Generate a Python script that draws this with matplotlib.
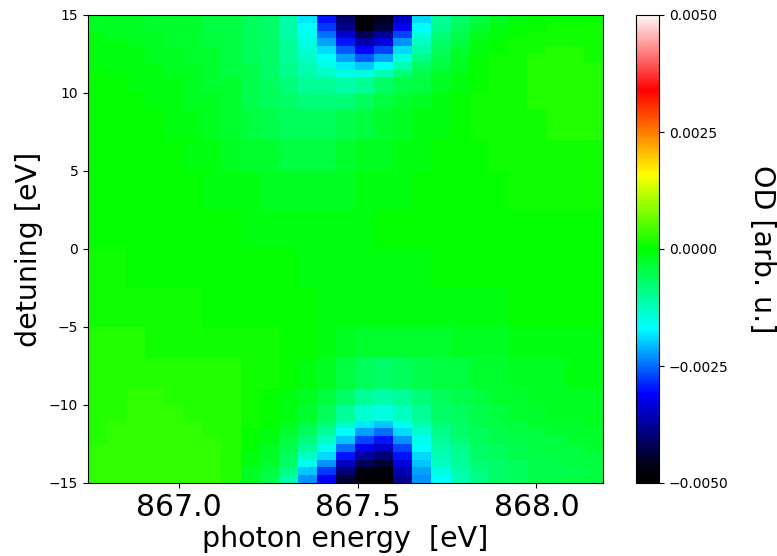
import numpy as np
import matplotlib
matplotlib.use("Agg")
import matplotlib.pyplot as plt
from matplotlib.colors import LinearSegmentedColormap
from matplotlib.ticker import FuncFormatter

# ---- data -------------------------------------------------------------
energy_edges = [866.746, 866.799, 866.853, 866.906, 866.959, 867.013, 867.066,
                867.119, 867.173, 867.226, 867.280, 867.333, 867.386, 867.440,
                867.493, 867.546, 867.600, 867.653, 867.706, 867.760, 867.813,
                867.866, 867.920, 867.973, 868.026, 868.080, 868.133, 868.186]

detuning_edges = [15, 14.5, 14, 13.5, 13, 12.5, 12, 11.5, 11, 10, 9, 7, 5, 2.5, 0,
                  -2.5, -5, -7, -9, -10, -11, -11.5, -12, -12.5, -13, -13.5, -14,
                  -14.5, -15]

# OD values in units of 1e-4, rows from top (detuning +15) to bottom (-15)
od_1e4 = [
    [-2,-2,-2,-3,-3,-3,-4,-4,-6,-7,-11,-18,-30,-41,-50,-46,-34,-19,-10,-7,-4,-2,-1,0,0,0,0],
    [-2,-2,-2,-3,-3,-3,-4,-4,-6,-7,-11,-17,-28,-38,-47,-43,-31,-17,-9,-6,-3,-1,0,0,1,1,1],
    [-1,-2,-2,-2,-3,-3,-4,-4,-6,-7,-11,-16,-25,-34,-42,-38,-27,-15,-8,-5,-2,-1,0,1,1,1,1],
    [-1,-1,-2,-2,-3,-3,-4,-4,-6,-7,-10,-15,-22,-30,-37,-33,-23,-13,-7,-4,-1,0,1,1,1,1,1],
    [-1,-1,-1,-2,-2,-3,-3,-4,-6,-7,-10,-14,-19,-26,-31,-27,-19,-11,-6,-3,-1,0,1,1,2,2,1],
    [-1,-1,-1,-2,-2,-3,-3,-4,-6,-7,-10,-13,-17,-22,-26,-22,-15,-9,-5,-2,0,1,1,2,2,2,1],
    [-1,-1,-1,-1,-2,-2,-3,-4,-5,-7,-9,-12,-15,-18,-20,-17,-12,-7,-4,-2,0,1,1,2,2,2,2],
    [0,-1,-1,-1,-2,-2,-3,-4,-5,-7,-9,-11,-13,-15,-15,-12,-8,-5,-3,-1,0,1,1,2,2,2,2],
    [0,0,-1,-1,-1,-2,-3,-3,-5,-6,-8,-10,-10,-11,-10,-7,-5,-4,-2,-1,0,1,1,2,2,2,2],
    [0,0,0,-1,-1,-2,-2,-3,-5,-6,-7,-8,-8,-8,-6,-4,-3,-2,-1,0,1,1,1,2,2,2,2],
    [0,0,0,0,-1,-1,-2,-3,-4,-5,-6,-6,-6,-5,-4,-3,-2,-1,-1,0,1,1,1,1,2,2,2],
    [0,0,0,0,0,-1,-1,-2,-3,-3,-4,-4,-4,-3,-2,-2,-1,-1,0,0,0,1,1,1,1,1,1],
    [0,0,0,0,0,0,-1,-1,-1,-2,-2,-2,-2,-2,-1,-1,-1,0,0,0,0,0,1,1,1,1,1],
    [0,0,0,0,0,0,0,0,-1,-1,-1,-1,-1,-1,-1,0,0,0,0,0,0,0,0,0,0,0,0],
    [1,1,0,0,0,0,0,0,0,0,0,-1,-1,-1,-1,-1,-1,-1,0,0,0,0,0,0,0,0,0],
    [1,1,1,1,1,1,0,0,0,0,0,0,-1,-1,-1,-1,-1,-1,-1,-1,-1,-1,0,0,0,0,0],
    [2,2,2,1,1,1,1,1,1,1,0,0,-1,-2,-3,-3,-3,-3,-3,-2,-2,-2,-1,-1,-1,-1,-1],
    [2,2,2,2,2,2,2,2,1,1,0,-1,-2,-4,-6,-7,-6,-5,-4,-4,-3,-3,-2,-2,-2,-1,-1],
    [2,2,3,3,2,2,2,2,1,0,-1,-2,-4,-7,-10,-11,-10,-8,-6,-5,-4,-3,-3,-2,-2,-2,-2],
    [2,2,3,3,3,2,2,2,1,0,-1,-3,-6,-10,-14,-15,-13,-10,-7,-6,-5,-4,-3,-3,-2,-2,-2],
    [2,3,3,3,3,3,2,2,1,0,-2,-4,-8,-13,-18,-20,-16,-12,-8,-7,-5,-4,-4,-3,-3,-3,-2],
    [2,3,3,3,3,3,2,2,0,-1,-3,-6,-10,-17,-22,-25,-19,-14,-9,-7,-6,-5,-4,-4,-3,-3,-3],
    [2,3,3,3,3,3,3,2,0,-1,-4,-8,-13,-20,-27,-30,-23,-16,-10,-8,-6,-5,-5,-4,-4,-3,-3],
    [3,3,3,3,3,3,3,2,0,-2,-5,-10,-16,-25,-32,-35,-27,-17,-11,-9,-7,-6,-5,-4,-4,-4,-3],
    [3,3,3,3,3,3,3,2,-1,-2,-6,-13,-19,-30,-37,-40,-30,-19,-12,-10,-7,-6,-5,-5,-4,-4,-4],
    [3,3,3,3,3,3,3,2,-1,-3,-7,-16,-23,-35,-42,-44,-33,-20,-13,-10,-8,-7,-6,-5,-5,-4,-4],
    [3,3,3,3,3,3,3,2,-2,-4,-9,-20,-28,-40,-47,-48,-36,-22,-15,-11,-8,-7,-6,-5,-5,-5,-4],
    [3,3,3,3,3,3,3,2,-2,-5,-11,-23,-32,-44,-50,-50,-38,-23,-17,-12,-9,-7,-6,-5,-5,-4,-4],
]

x_ticks = [867.0, 867.5, 868.0]
y_ticks = [-15, -10, -5, 0, 5, 10, 15]
cbar_ticks = [-0.005, -0.0025, 0.0, 0.0025, 0.005]

# ---- colormap ---------------------------------------------------------
cmap = LinearSegmentedColormap.from_list("odmap", [
    (0.00, (0.0, 0.0, 0.0)),
    (0.03, (0.0, 0.0, 0.05)),
    (0.19, (0.0, 0.0, 1.0)),
    (0.33, (0.0, 1.0, 1.0)),
    (0.50, (0.0, 1.0, 0.0)),
    (0.66, (1.0, 1.0, 0.0)),
    (0.74, (1.0, 0.55, 0.0)),
    (0.84, (1.0, 0.0, 0.0)),
    (1.00, (1.0, 0.97, 0.97)),
])

# ---- figure -----------------------------------------------------------
fig = plt.figure(figsize=(7.77, 5.56), dpi=100)
ax = fig.add_axes([88/777, 73/556, 515/777, 468/556])
cax = fig.add_axes([636/777, 73/556, 23/777, 468/556])

Z = np.array(od_1e4, dtype=float) * 1e-4
mesh = ax.pcolormesh(np.array(energy_edges), np.array(detuning_edges), Z,
                     cmap=cmap, vmin=-0.005, vmax=0.005, shading='flat')

ax.set_ylim(-15, 15)
ax.set_xticks(x_ticks)
ax.set_xticklabels([f"{v:.1f}" for v in x_ticks], fontsize=21.5)
ax.set_yticks(y_ticks)
ax.tick_params(axis='y', labelsize=10)
ax.tick_params(axis='x', pad=4)
ax.set_xlabel("photon energy  [eV]", fontsize=20.5, labelpad=2)
ax.set_ylabel("detuning [eV]", fontsize=20.5, labelpad=4)

cb = fig.colorbar(mesh, cax=cax, ticks=cbar_ticks)
cb.ax.yaxis.set_major_formatter(
    FuncFormatter(lambda v, p: f"{v:.4f}".replace("-", "\u2212") if abs(v) > 1e-12 else "0.0000"))
cb.ax.tick_params(labelsize=10)
cb.set_label("OD [arb. u.]", fontsize=20.5, rotation=270, labelpad=34)

fig.savefig("out.png", dpi=100)
